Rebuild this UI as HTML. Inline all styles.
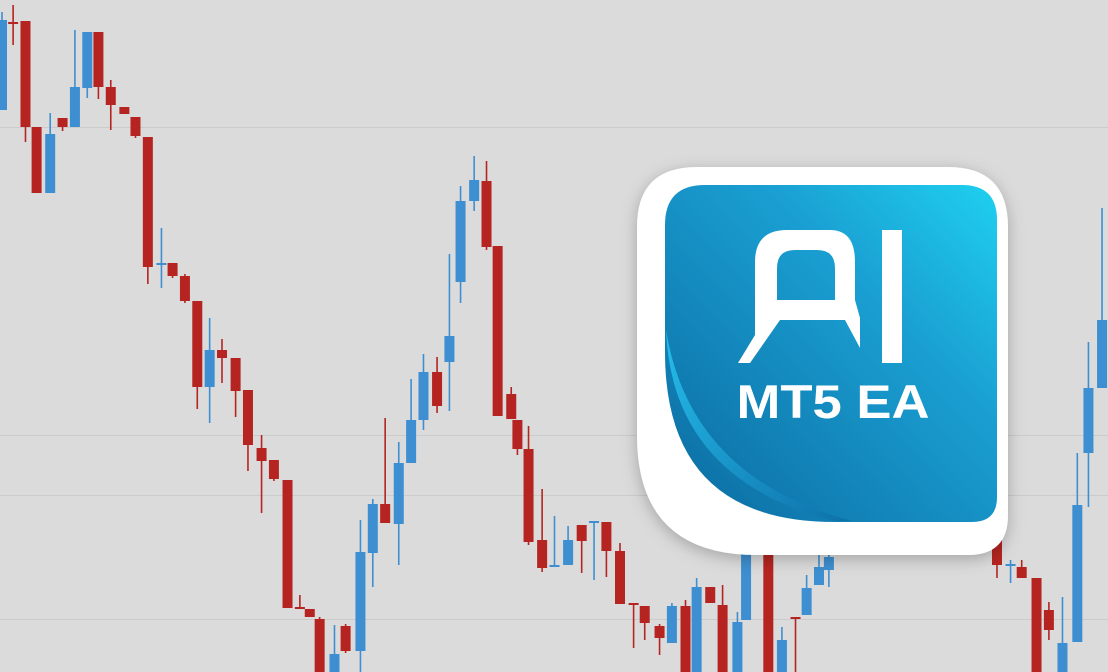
<!DOCTYPE html>
<html><head><meta charset="utf-8"><style>
html,body{margin:0;padding:0;background:#dbdbdb;}
svg{display:block;}
</style></head><body>
<svg id="chart" width="1108" height="672" viewBox="0 0 1108 672" xmlns="http://www.w3.org/2000/svg">
<defs>
<linearGradient id="blueGrad" x1="1" y1="0" x2="0" y2="1">
<stop offset="0" stop-color="#1fd0f0"/>
<stop offset="0.35" stop-color="#1a9fd2"/>
<stop offset="1" stop-color="#0b6aa0"/>
</linearGradient>
<linearGradient id="swoosh" x1="0" y1="0" x2="1" y2="1">
<stop offset="0" stop-color="#28c4f2"/>
<stop offset="1" stop-color="#0d6fa8"/>
</linearGradient>
<filter id="shadow" x="-20%" y="-20%" width="140%" height="140%">
<feDropShadow dx="0" dy="4" stdDeviation="8" flood-color="#000" flood-opacity="0.25"/>
</filter>
</defs>
<rect x="0" y="0" width="1108" height="672" fill="#dbdbdb"/>
<g id="grid"></g>
<g id="candles"></g>
<g filter="url(#shadow)">
<path fill="#ffffff" d="M697,167 H948 Q1008,167 1008,227 V515 Q1008,555 968,555 H757 Q637,555 637,435 V227 Q637,167 697,167 Z"/>
</g>
<path fill="url(#blueGrad)" d="M705,185 H962 Q997,185 997,220 V497 Q997,522 972,522 H835 Q665,522 665,352 V225 Q665,185 705,185 Z"/>
<path fill="url(#swoosh)" d="M666,330 Q672,480 835,521 L852,521 Q690,478 666,330 Z" opacity="0.9"/>
<path fill="#ffffff" d="M755,322 V262 Q755,230 787,230 H830 Q855,230 855,262 V300 H835 V268 Q835,250 817,250 H795 Q777,250 777,268 V300 H855 L860,318 V348 L845,320 H780 L750,363 H738 L755,335 Z"/>
<rect x="882" y="230" width="20" height="133" fill="#ffffff"/>
<text x="833" y="418" text-anchor="middle" font-family="Liberation Sans, sans-serif" font-weight="bold" font-size="47" fill="#ffffff" textLength="193" lengthAdjust="spacingAndGlyphs">MT5 EA</text>
</svg>
<script>
// time index of each bar
const times=[0,0.9,1.9,2.8,3.9,4.9,5.9,6.9,7.8,8.8,9.9,10.8,11.8,12.9,13.8,14.8,15.8,16.8,17.8,18.9,19.9,21.0,22.0,23.1,24.1,24.9,25.7,26.9,27.8,29.0,30.0,31.0,32.1,33.1,34.1,35.2,36.2,37.1,38.2,39.2,40.1,41.2,41.7,42.6,43.7,44.7,45.8,46.9,47.9,48.9,50.0,51.1,52.0,53.2,54.2,55.3,56.2,57.3,58.3,59.5,60.2,62.0,63.1,64.2,65.1,66.1,66.9,80.5,81.6,82.5,83.7,84.7,85.8,87.0,87.9,89.0];
const opens=[590,678,679,573,507,582,573,612,668,613,593,583,563,435,437,424,399,313,350,342,310,252,240,220,93,91,81,20,74,49,147,196,176,237,280,328,338,418,499,519,454,306,280,251,160,133,135,175,177,178,149,97,94,74,57,94,20,113,95,20,80,155,20,83,85,115,130,200,134,133,122,90,20,58,247,312];
const closes=[680,676,573,507,566,573,613,668,613,595,586,564,433,437,424,399,313,350,342,309,255,239,221,92,91,83,20,46,49,148,196,177,237,280,328,294,364,499,520,453,284,281,251,158,132,135,160,159,179,149,96,95,77,62,94,20,113,97,20,78,160,20,60,81,112,133,143,135,136,122,20,70,57,195,312,380];
const highs=[688,695,679,573,587,582,670,668,668,620,593,583,563,472,437,426,399,382,361,342,310,265,240,220,105,91,83,75,76,180,201,282,258,321,346,343,446,514,544,539,454,313,280,274,211,184,174,175,179,178,157,97,94,76,97,100,122,113,115,88,160,155,73,83,125,145,150,200,140,140,122,98,103,247,358,492];
const lows=[590,655,558,507,507,569,573,602,601,570,586,562,416,412,422,397,291,277,317,283,229,187,219,92,91,83,20,15,47,20,113,177,135,237,270,287,289,397,489,450,284,281,245,155,128,133,135,127,120,123,96,52,60,45,57,20,20,97,20,20,80,20,20,20,85,115,113,122,117,122,20,60,20,58,193,312];
const gridPrices=[573,265,205,81];

const xScale=t=>2+t*12.36;
const yScale=p=>700-p;
const NS='http://www.w3.org/2000/svg';
const grid=document.getElementById('grid');
gridPrices.forEach(p=>{
  const l=document.createElementNS(NS,'line');
  l.setAttribute('x1',0);l.setAttribute('x2',1108);
  l.setAttribute('y1',yScale(p)+0.5);l.setAttribute('y2',yScale(p)+0.5);
  l.setAttribute('stroke','#cbcbcb');l.setAttribute('stroke-width','1');
  
  
  grid.appendChild(l);
});
const g=document.getElementById('candles');
times.forEach((t,i)=>{
  const x=xScale(t);
  const up=closes[i]>=opens[i];
  const col=up?'#3d8fd1':'#b52420';
  const w=document.createElementNS(NS,'line');
  w.setAttribute('x1',x);w.setAttribute('x2',x);
  w.setAttribute('y1',yScale(highs[i]));w.setAttribute('y2',yScale(lows[i]));
  w.setAttribute('stroke',col);w.setAttribute('stroke-width','1.6');
  
  
  g.appendChild(w);
  const top=yScale(Math.max(opens[i],closes[i]));
  const bot=yScale(Math.min(opens[i],closes[i]));
  const r=document.createElementNS(NS,'rect');
  r.setAttribute('x',x-5);r.setAttribute('width',10);
  r.setAttribute('y',top);r.setAttribute('height',Math.max(2,bot-top));
  r.setAttribute('fill',col);
  
  
  g.appendChild(r);
});
</script>
</body></html>
